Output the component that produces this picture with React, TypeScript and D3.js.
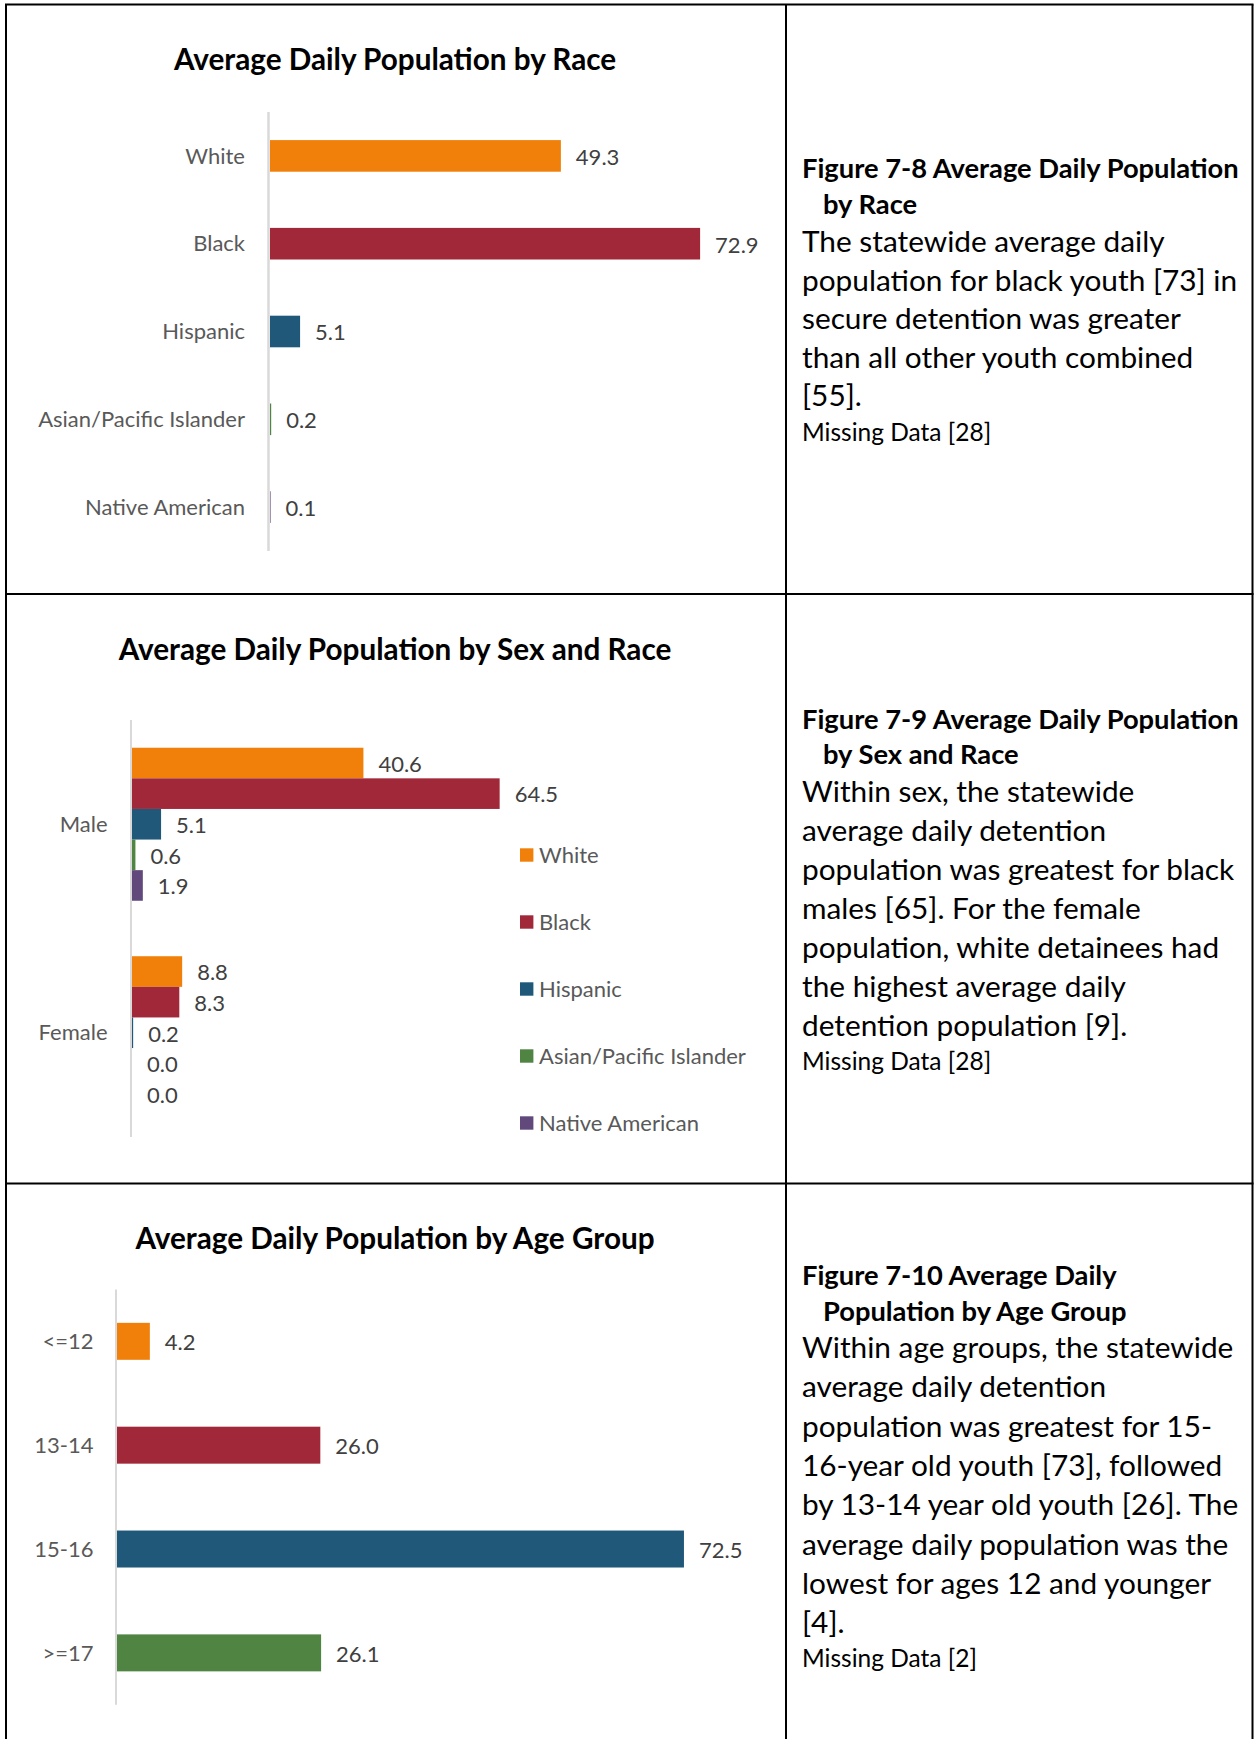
import { useEffect, useRef } from "react";
import * as d3 from "d3";

// ---- data ----
const raceCategories = ["White", "Black", "Hispanic", "Asian/Pacific Islander", "Native American"];
const raceValues = [49.3, 72.9, 5.1, 0.2, 0.1];

const sexCategories = ["Male", "Female"];
const maleValues = [40.6, 64.5, 5.1, 0.6, 1.9];
const femaleValues = [8.8, 8.3, 0.2, 0.0, 0.0];

const ageCategories = ["<=12", "13-14", "15-16", ">=17"];
const ageValues = [4.2, 26.0, 72.5, 26.1];

const raceColors = ["#F0800A", "#A12838", "#1F5878", "#4F8442", "#614A7B"];

const caption1 = {
  head: ["Figure 7-8 Average Daily Population", "by Race"],
  body: [
    "The statewide average daily",
    "population for black youth [73] in",
    "secure detention was greater",
    "than all other youth combined",
    "[55].",
  ],
  missing: "Missing Data [28]",
};
const caption2 = {
  head: ["Figure 7-9 Average Daily Population", "by Sex and Race"],
  body: [
    "Within sex, the statewide",
    "average daily detention",
    "population was greatest for black",
    "males [65]. For the female",
    "population, white detainees had",
    "the highest average daily",
    "detention population [9].",
  ],
  missing: "Missing Data [28]",
};
const caption3 = {
  head: ["Figure 7-10 Average Daily", "Population by Age Group"],
  body: [
    "Within age groups, the statewide",
    "average daily detention",
    "population was greatest for 15-",
    "16-year old youth [73], followed",
    "by 13-14 year old youth [26]. The",
    "average daily population was the",
    "lowest for ages 12 and younger",
    "[4].",
  ],
  missing: "Missing Data [2]",
};

const W = 1254;
const H = 1739;
const FONT = "Lato, 'Noto Sans', sans-serif";
const AXIS_GRAY = "#D9D9D9";
const LABEL_GRAY = "#595959";
const VALUE_GRAY = "#404040";
const LABEL_SIZE = "22px";

export default function App() {
  const ref = useRef<SVGSVGElement | null>(null);

  useEffect(() => {
    const svg = d3.select(ref.current);
    svg.selectAll("*").remove();
    svg.style("font-family", FONT);

    // ---- table grid ----
    const grid = svg.append("g").attr("stroke", "#000").attr("stroke-width", 2);
    grid.append("line").attr("x1", 6).attr("x2", 6).attr("y1", 4.5).attr("y2", H);
    grid.append("line").attr("x1", 1252.5).attr("x2", 1252.5).attr("y1", 4.5).attr("y2", H);
    grid.append("line").attr("x1", 786).attr("x2", 786).attr("y1", 4.5).attr("y2", H);
    [4.5, 594, 1183.5].forEach(y =>
      grid.append("line").attr("x1", 5).attr("x2", 1253.5).attr("y1", y).attr("y2", y)
    );

    const title = (text, y) =>
      svg.append("text")
        .attr("x", 395)
        .attr("y", y)
        .attr("text-anchor", "middle")
        .style("font-size", "29.7px")
        .style("font-weight", "700")
        .style("fill", "#000")
        .text(text);

    const catLabels = (g, cats, y, x) =>
      g.selectAll(null)
        .data(cats)
        .enter()
        .append("text")
        .attr("x", x)
        .attr("y", d => y(d) + y.bandwidth() / 2)
        .attr("dy", "0.35em")
        .attr("text-anchor", "end")
        .style("font-size", LABEL_SIZE)
        .style("fill", LABEL_GRAY)
        .text(d => d);

    // ---- chart 1: by race ----
    {
      const g = svg.append("g");
      const x = d3.scaleLinear().domain([0, 80]).range([270, 742]);
      const y = d3.scaleBand().domain(raceCategories).range([112, 551])
        .paddingInner(0.64).paddingOuter(0.32);
      title("Average Daily Population by Race", 70);
      g.append("line").attr("x1", 268.5).attr("x2", 268.5).attr("y1", 112).attr("y2", 551)
        .attr("stroke", AXIS_GRAY).attr("stroke-width", 2.5);
      g.selectAll("rect")
        .data(raceValues)
        .enter()
        .append("rect")
        .attr("x", x(0))
        .attr("y", (d, i) => y(raceCategories[i]))
        .attr("width", d => x(d) - x(0))
        .attr("height", y.bandwidth())
        .attr("fill", (d, i) => raceColors[i]);
      g.selectAll("text.val")
        .data(raceValues)
        .enter()
        .append("text")
        .attr("class", "val")
        .attr("x", d => x(d) + 15)
        .attr("y", (d, i) => y(raceCategories[i]) + y.bandwidth() / 2)
        .attr("dy", "0.4em")
        .style("font-size", LABEL_SIZE)
        .style("fill", VALUE_GRAY)
        .text(d => d.toFixed(1));
      catLabels(g, raceCategories, y, 245);
    }

    // ---- chart 2: by sex and race ----
    {
      const g = svg.append("g");
      const x = d3.scaleLinear().domain([0, 80]).range([132, 588]);
      const y = d3.scaleBand().domain(sexCategories).range([720, 1137])
        .paddingInner(0.266).paddingOuter(0.133);
      const yi = d3.scaleBand().domain(raceCategories).range([0, y.bandwidth()]);
      title("Average Daily Population by Sex and Race", 660);
      g.append("line").attr("x1", 131).attr("x2", 131).attr("y1", 720).attr("y2", 1137)
        .attr("stroke", AXIS_GRAY).attr("stroke-width", 2);
      const rows = [maleValues, femaleValues];
      rows.forEach((vals, si) => {
        const gy = y(sexCategories[si]);
        g.selectAll(null)
          .data(vals)
          .enter()
          .append("rect")
          .attr("x", x(0))
          .attr("y", (d, i) => gy + yi(raceCategories[i]))
          .attr("width", d => x(d) - x(0))
          .attr("height", yi.bandwidth())
          .attr("fill", (d, i) => raceColors[i]);
        g.selectAll(null)
          .data(vals)
          .enter()
          .append("text")
          .attr("x", d => x(d) + 15)
          .attr("y", (d, i) => gy + yi(raceCategories[i]) + yi.bandwidth() / 2)
          .attr("dy", "0.4em")
          .style("font-size", LABEL_SIZE)
          .style("fill", VALUE_GRAY)
          .text(d => d.toFixed(1));
      });
      catLabels(g, sexCategories, y, 107.5);

      // legend
      const legend = g.append("g");
      raceCategories.forEach((c, i) => {
        const ly = 855 + i * 67;
        legend.append("rect")
          .attr("x", 520).attr("y", ly - 6.7)
          .attr("width", 13.4).attr("height", 13.4)
          .attr("fill", raceColors[i]);
        legend.append("text")
          .attr("x", 539).attr("y", ly)
          .attr("dy", "0.35em")
          .style("font-size", LABEL_SIZE)
          .style("fill", LABEL_GRAY)
          .text(c);
      });
    }

    // ---- chart 3: by age group ----
    {
      const g = svg.append("g");
      const x = d3.scaleLinear().domain([0, 80]).range([117, 742.6]);
      const y = d3.scaleBand().domain(ageCategories).range([1289.4, 1704.8])
        .paddingInner(0.644).paddingOuter(0.322);
      title("Average Daily Population by Age Group", 1248.5);
      g.append("line").attr("x1", 116).attr("x2", 116).attr("y1", 1289.4).attr("y2", 1704.8)
        .attr("stroke", AXIS_GRAY).attr("stroke-width", 2);
      g.selectAll("rect")
        .data(ageValues)
        .enter()
        .append("rect")
        .attr("x", x(0))
        .attr("y", (d, i) => y(ageCategories[i]))
        .attr("width", d => x(d) - x(0))
        .attr("height", y.bandwidth())
        .attr("fill", (d, i) => raceColors[i]);
      g.selectAll("text.val")
        .data(ageValues)
        .enter()
        .append("text")
        .attr("class", "val")
        .attr("x", d => x(d) + 15)
        .attr("y", (d, i) => y(ageCategories[i]) + y.bandwidth() / 2)
        .attr("dy", "0.4em")
        .style("font-size", LABEL_SIZE)
        .style("fill", VALUE_GRAY)
        .text(d => d.toFixed(1));
      catLabels(g, ageCategories, y, 93.5);
    }

    // ---- right column captions ----
    const caption = (c, headY, bodyY, bodyStep, missingY) => {
      const t = svg.append("g").style("fill", "#000");
      c.head.forEach((line, i) =>
        t.append("text")
          .attr("x", i === 0 ? 802 : 823)
          .attr("y", headY + i * 35.5)
          .style("font-size", "27.3px")
          .style("font-weight", "700")
          .text(line)
      );
      c.body.forEach((line, i) =>
        t.append("text")
          .attr("x", 802)
          .attr("y", bodyY + i * bodyStep)
          .style("font-size", "29.8px")
          .text(line)
      );
      t.append("text")
        .attr("x", 802)
        .attr("y", missingY)
        .style("font-size", "24.5px")
        .text(c.missing);
    };
    caption(caption1, 178, 252, 38.5, 441);
    caption(caption2, 728.5, 801.6, 39, 1070);
    caption(caption3, 1285, 1358, 39.3, 1666.5);
  }, []);

  return (
    <div style={{ position: "absolute", left: 0, top: 0, width: W, height: H, background: "#fff" }}>
      <svg ref={ref} width={W} height={H} viewBox={`0 0 ${W} ${H}`} />
    </div>
  );
}
